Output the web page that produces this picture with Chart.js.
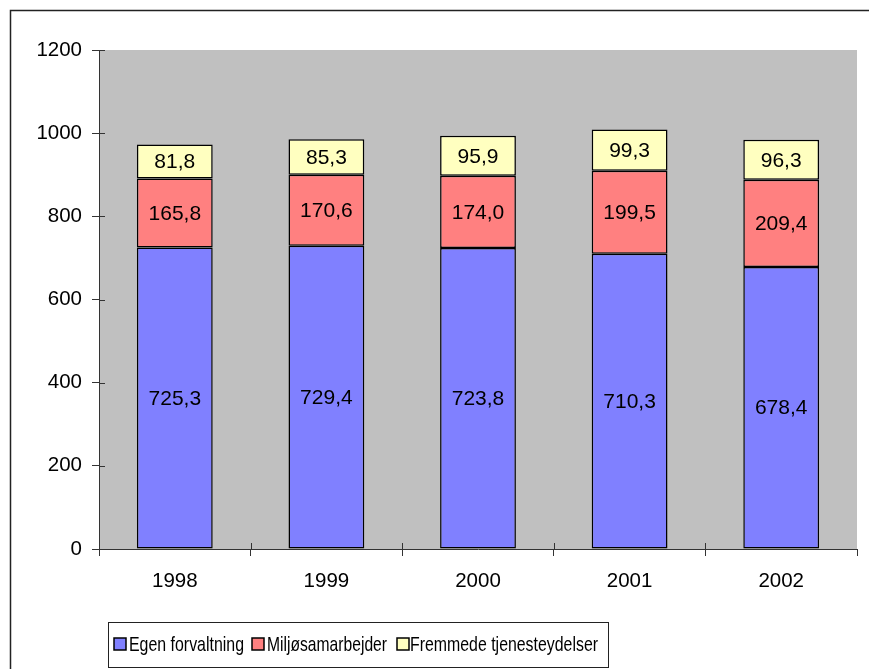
<!DOCTYPE html>
<html>
<head>
<meta charset="utf-8">
<script src="https://cdn.jsdelivr.net/npm/chart.js@4.4.1/dist/chart.umd.min.js"></script>
<style>
    html, body { margin: 0; padding: 0; background: #fff; }
    #wrap { width: 869px; height: 669px; position: relative; }
</style>
</head>
<body>
<div id="wrap"><canvas id="chart" width="869" height="669"></canvas></div>
<script>
var arrYears = ['1998', '1999', '2000', '2001', '2002'];
var arrEgen = [725.3, 729.4, 723.8, 710.3, 678.4];
var arrMiljo = [165.8, 170.6, 174.0, 199.5, 209.4];
var arrFremmede = [81.8, 85.3, 95.9, 99.3, 96.3];

var strFont = '"Liberation Sans", Arial, sans-serif';
var fltTickSize = 20.5;
var fltLabelSize = 21;

// legend layout (swatch x, text x, squeezed text width) - Excel draws it narrow
var arrLegendPos = [
    { swatch: 114, text: 129, width: 115 },
    { swatch: 252, text: 267, width: 120 },
    { swatch: 397, text: 410, width: 188 }
];

// grey plot background + outer frame
var objBackground = {
    id: 'background',
    beforeDraw: function (chart) {
        var ctx = chart.ctx;
        var a = chart.chartArea;
        ctx.save();
        ctx.fillStyle = '#c0c0c0';
        ctx.fillRect(a.left, a.top, a.right - a.left, a.bottom - a.top);
        ctx.strokeStyle = '#222';
        ctx.lineWidth = 1.5;
        ctx.strokeRect(10.5, 10.5, 880, 680);
        ctx.restore();
    }
};

// inner halves of the cross tick marks
var objInnerTicks = {
    id: 'innerTicks',
    afterDatasetsDraw: function (chart) {
        var ctx = chart.ctx;
        var a = chart.chartArea;
        var sy = chart.scales.y;
        var sx = chart.scales.x;
        ctx.save();
        ctx.strokeStyle = '#333';
        ctx.lineWidth = 1;
        ctx.beginPath();
        sy.ticks.forEach(function (t) {
            var y = Math.round(sy.getPixelForValue(t.value)) + 0.5;
            ctx.moveTo(a.left, y);
            ctx.lineTo(a.left + 6, y);
        });
        for (var i = 1; i < sx.ticks.length; i++) {
            var x = Math.round((sx.getPixelForTick(i - 1) + sx.getPixelForTick(i)) / 2) + 0.5;
            ctx.moveTo(x, a.bottom);
            ctx.lineTo(x, a.bottom - 6);
        }
        ctx.stroke();
        ctx.restore();
    }
};

// value labels inside segments, decimal comma
var objLabels = {
    id: 'labels',
    afterDatasetsDraw: function (chart) {
        var ctx = chart.ctx;
        ctx.save();
        ctx.font = fltLabelSize + 'px ' + strFont;
        ctx.fillStyle = '#000';
        ctx.textAlign = 'center';
        ctx.textBaseline = 'middle';
        chart.data.datasets.forEach(function (ds, i) {
            chart.getDatasetMeta(i).data.forEach(function (bar, j) {
                var y = (bar.y + bar.base) / 2 + 1;
                ctx.fillText(ds.data[j].toFixed(1).replace('.', ','), bar.x, y);
            });
        });
        ctx.restore();
    }
};

// boxed legend, drawn by hand to get the Excel look
var objLegend = {
    id: 'boxLegend',
    afterDraw: function (chart) {
        var ctx = chart.ctx;
        ctx.save();
        ctx.font = fltLabelSize + 'px ' + strFont;
        ctx.textBaseline = 'middle';
        ctx.strokeStyle = '#222';
        ctx.lineWidth = 1;
        ctx.strokeRect(108.5, 622.5, 500, 45);
        var y = 645;
        chart.data.datasets.forEach(function (ds, i) {
            var p = arrLegendPos[i];
            ctx.fillStyle = ds.backgroundColor;
            ctx.fillRect(p.swatch, y - 7, 12, 12);
            ctx.lineWidth = 1.5;
            ctx.strokeStyle = '#000';
            ctx.strokeRect(p.swatch, y - 7, 12, 12);
            ctx.fillStyle = '#000';
            ctx.fillText(ds.label, p.text, y, p.width);
        });
        ctx.restore();
    }
};

var ctx = document.getElementById('chart').getContext('2d');
var objChart = new Chart(ctx, {
    type: 'bar',
    data: {
        labels: arrYears,
        datasets: [
            { label: 'Egen forvaltning', data: arrEgen, backgroundColor: '#8080ff' },
            { label: 'Miljøsamarbejder', data: arrMiljo, backgroundColor: '#ff8080' },
            { label: 'Fremmede tjenesteydelser', data: arrFremmede, backgroundColor: '#ffffc0' }
        ]
    },
    options: {
        responsive: false,
        animation: false,
        datasets: {
            bar: {
                borderColor: '#000',
                borderWidth: 1.5,
                borderSkipped: false,
                barPercentage: 1,
                categoryPercentage: 0.5
            }
        },
        layout: {
            padding: { top: 50, right: 12, left: 0, bottom: 0 }
        },
        plugins: {
            legend: { display: false },
            tooltip: { enabled: false }
        },
        scales: {
            x: {
                stacked: true,
                afterFit: function (scale) { scale.height = 120; },
                border: { color: '#333', width: 1 },
                grid: {
                    offset: true,
                    drawOnChartArea: false,
                    tickLength: 7,
                    color: '#333'
                },
                ticks: {
                    padding: 13,
                    color: '#000',
                    font: { family: strFont, size: fltTickSize }
                }
            },
            y: {
                stacked: true,
                min: 0,
                max: 1200,
                afterFit: function (scale) { scale.width = 99; },
                border: { color: '#333', width: 1 },
                grid: {
                    drawOnChartArea: false,
                    tickLength: 7,
                    color: '#333'
                },
                ticks: {
                    stepSize: 200,
                    padding: 10,
                    color: '#000',
                    font: { family: strFont, size: fltTickSize },
                    callback: function (value) { return String(value); }
                }
            }
        }
    },
    plugins: [objBackground, objInnerTicks, objLabels, objLegend]
});
</script>
</body>
</html>
